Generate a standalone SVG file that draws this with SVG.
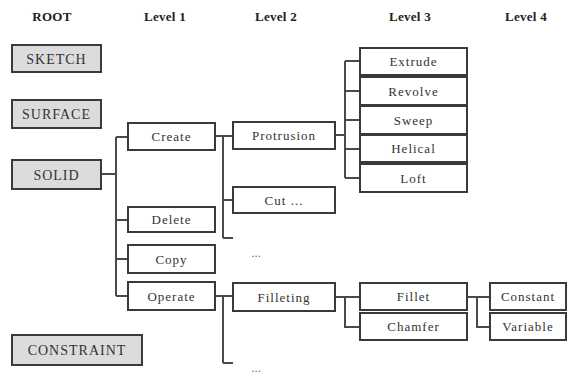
<svg xmlns="http://www.w3.org/2000/svg" width="571" height="377" viewBox="0 0 571 377">
<style>
.hdr{font-family:"Liberation Serif",serif;font-weight:bold;font-size:13px;fill:#222;text-anchor:middle;letter-spacing:0.3px}
.root rect{fill:#dcdcdc;stroke:#3a3a3a;stroke-width:2}
.node rect{fill:#fff;stroke:#3a3a3a;stroke-width:2}
.root text{font-family:"Liberation Serif",serif;font-size:14px;fill:#333;text-anchor:middle;letter-spacing:1px}
.node text{font-family:"Liberation Serif",serif;font-size:13px;fill:#333;text-anchor:middle;letter-spacing:1px}
.dots{font-family:"Liberation Serif",serif;font-size:13px;fill:#777;text-anchor:middle}
#connectors path{fill:none;stroke:#4a4a4a;stroke-width:2}
</style>
<rect width="571" height="377" fill="#fff"/>
<g id="headers">
<text class="hdr" x="52" y="21">ROOT</text>
<text class="hdr" x="165" y="21">Level 1</text>
<text class="hdr" x="276" y="21">Level 2</text>
<text class="hdr" x="410" y="21">Level 3</text>
<text class="hdr" x="526" y="21">Level 4</text>
</g>
<g id="connectors">
<path d="M101 174H116M116 137V296M116 137H128M116 220H128M116 259H128M116 296H128"/>
<path d="M215 136H223M223 136V238M223 136H233M223 200H233M223 238H233"/>
<path d="M215 296H223M223 296V363M223 296H233M223 363H233"/>
<path d="M335 135H345M345 61V178M345 61H360M345 91H360M345 120H360M345 149H360M345 178H360"/>
<path d="M335 297H345V327H360M345 297H360"/>
<path d="M467 297H477V327H490M477 297H490"/>
</g>
<g id="n-sketch" class="root"><rect x="12" y="45" width="89" height="27"/><text x="56.5" y="63.5">SKETCH</text></g>
<g id="n-surface" class="root"><rect x="12" y="100" width="89" height="28"/><text x="56.5" y="119">SURFACE</text></g>
<g id="n-solid" class="root"><rect x="12" y="160" width="89" height="29"/><text x="56.5" y="179.5">SOLID</text></g>
<g id="n-constraint" class="root"><rect x="12" y="335" width="130" height="30"/><text x="77" y="355">CONSTRAINT</text></g>
<g id="n-create" class="node"><rect x="128" y="123" width="87" height="27"/><text x="171.5" y="141">Create</text></g>
<g id="n-delete" class="node"><rect x="128" y="207" width="87" height="25"/><text x="171.5" y="224">Delete</text></g>
<g id="n-copy" class="node"><rect x="128" y="245" width="87" height="28"/><text x="171.5" y="263.5">Copy</text></g>
<g id="n-operate" class="node"><rect x="128" y="282" width="87" height="28"/><text x="171.5" y="300.5">Operate</text></g>
<g id="n-protrusion" class="node"><rect x="233" y="122" width="102" height="27"/><text x="284" y="140">Protrusion</text></g>
<g id="n-cut" class="node"><rect x="233" y="187" width="102" height="26"/><text x="284" y="204.5">Cut ...</text></g>
<g id="n-filleting" class="node"><rect x="233" y="283" width="102" height="28"/><text x="284" y="301.5">Filleting</text></g>
<g id="n-extrude" class="node"><rect x="360" y="48" width="107" height="27"/><text x="413.5" y="66">Extrude</text></g>
<g id="n-revolve" class="node"><rect x="360" y="77" width="107" height="28"/><text x="413.5" y="95.5">Revolve</text></g>
<g id="n-sweep" class="node"><rect x="360" y="106" width="107" height="28"/><text x="413.5" y="124.5">Sweep</text></g>
<g id="n-helical" class="node"><rect x="360" y="135" width="107" height="27"/><text x="413.5" y="153">Helical</text></g>
<g id="n-loft" class="node"><rect x="360" y="164" width="107" height="28"/><text x="413.5" y="182.5">Loft</text></g>
<g id="n-fillet" class="node"><rect x="360" y="283" width="107" height="27"/><text x="413.5" y="301">Fillet</text></g>
<g id="n-chamfer" class="node"><rect x="360" y="313" width="107" height="27"/><text x="413.5" y="331">Chamfer</text></g>
<g id="n-constant" class="node"><rect x="490" y="283" width="76" height="27"/><text x="528" y="301">Constant</text></g>
<g id="n-variable" class="node"><rect x="490" y="313" width="76" height="27"/><text x="528" y="331">Variable</text></g>
<text class="dots" x="256" y="257">...</text>
<text class="dots" x="256" y="372">...</text>
</svg>
